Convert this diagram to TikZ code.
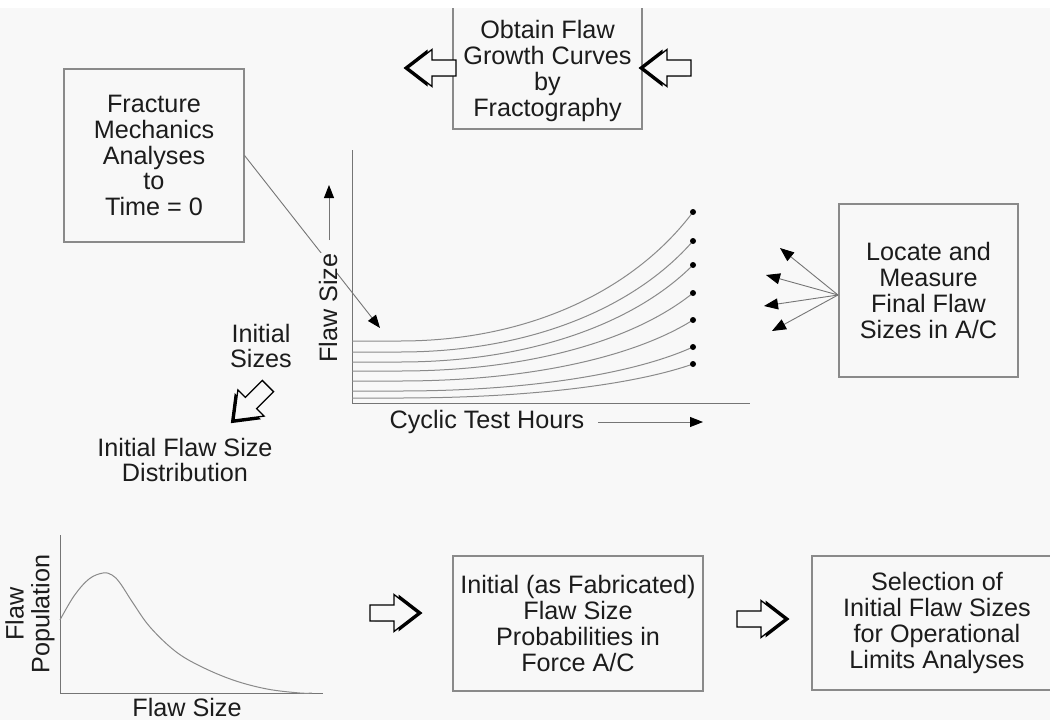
\documentclass[tikz,border=0pt]{standalone}
\usepackage{fontspec}
\setmainfont{Liberation Sans}
\usetikzlibrary{arrows.meta}
\definecolor{bg}{HTML}{F8F8F8}
\definecolor{ink}{HTML}{1C1C1C}
\definecolor{rule}{HTML}{8A8A8A}
\begin{document}
\begin{tikzpicture}[x=1pt,y=-1pt,
  lbl/.style={font=\fontsize{25.2}{25.8}\selectfont, text=ink, align=center, inner sep=0pt},
  boxed/.style={draw=rule, line width=1.1pt, inner sep=0pt},
  thinline/.style={draw=rule!85!black, line width=0.9pt},
  tipped/.style={thinline, -{Triangle[length=13pt,width=10pt,fill=black,color=black]}},
  fantip/.style={thinline, -{Triangle[length=14pt,width=11pt,fill=black,color=black]}},
  growth/.style={draw=rule, line width=1pt},
  hollow/.pic={
    % drop shadow pushed towards the point, then the outlined arrow
    \fill[black, shift={(4.5,0)}] (0,0) -- (-24,-18.5) -- (-24,-8) -- (-48,-8)
      -- (-48,8) -- (-24,8) -- (-24,18.5) -- cycle;
    \filldraw[fill=bg, draw=black, line width=1.3pt, line join=miter]
      (0,0) -- (-24,-18.5) -- (-24,-8) -- (-48,-8)
      -- (-48,8) -- (-24,8) -- (-24,18.5) -- cycle;
  }]
\useasboundingbox (0,0) rectangle (1050,720);
\clip (0,0) rectangle (1050,720);
\fill[bg] (0,0) rectangle (1050,720);

% ---- top box and its two block arrows
\node[boxed, minimum width=189pt, minimum height=140pt] (obtainbox) at (547.5,59) {};
\fill[white] (0,0) rectangle (1050,8);
\node[lbl] (obtain) at (547.5,71) {Obtain Flaw\\Growth Curves\\by\\Fractography};
\pic[rotate=180] (arrL) at (408,68) {hollow};
\pic[rotate=180] (arrR) at (643,68) {hollow};

% ---- fracture mechanics box
\node[boxed, lbl, minimum width=180pt, minimum height=173pt] (fracture) at (154,155.5)
  {Fracture\\Mechanics\\Analyses\\to\\Time = 0};

% ---- growth chart axes
\coordinate (yaxtop) at (352,150);
\coordinate (origin) at (352,403);
\coordinate (xaxend) at (750,403);
\draw[thinline] (yaxtop) -- (origin) -- (xaxend);

% ---- growth curves ending in dots
\foreach \a/\b [count=\i] in {341/212, 352/241, 362/265, 371/293, 381/320, 391/347, 398/364}{
  \coordinate (s\i) at (352,\a);
  \coordinate (e\i) at (693,\b);
  \draw[growth] (s\i) -- (400,\a) .. controls (530,\a) and (635,{\b+0.6*(\a-\b)}) .. (e\i);
  \fill[black] (e\i) circle (3pt);
}

% ---- axis labels of the growth chart
\coordinate (initsz) at (380,328);
\draw[tipped] (fracture.east) -- (initsz);
\node[lbl, rotate=90, fill=bg] (flawsize) at (328,308) {Flaw Size};
\coordinate (upfrom) at (329,240);
\coordinate (upto) at (329,185);
\draw[tipped] (upfrom) -- (upto);
\node[lbl] (cyclic) at (487,422) {Cyclic Test Hours};
\coordinate (rtfrom) at (598,422);
\coordinate (rtto) at (703,422);
\draw[tipped] (rtfrom) -- (rtto);

% ---- initial sizes
\node[lbl] (initial) at (261,346) {Initial\\Sizes};
\pic[rotate=225] (arrD) at (234,420) {hollow};
\node[lbl] (distrib) at (185,460) {Initial Flaw Size\\Distribution};

% ---- locate and measure box with fan of arrows
\node[boxed, lbl, minimum width=179pt, minimum height=173pt] (locate) at (928.5,290.5)
  {Locate and\\Measure\\Final Flaw\\Sizes in A/C};
\coordinate (fan) at (838,295);
\coordinate (f1) at (780,248);
\coordinate (f2) at (766,275);
\coordinate (f3) at (764,306);
\coordinate (f4) at (772,331);
\foreach \t in {f1,f2,f3,f4}
  \draw[fantip] (fan) -- (\t);

% ---- population distribution chart
\coordinate (ptop) at (60,535);
\coordinate (porig) at (60,693);
\coordinate (pend) at (323,693);
\draw[thinline] (ptop) -- (porig) -- (pend);
\draw[growth] plot[smooth, tension=0.6] coordinates
  {(60,620) (74,596) (89,579) (103,573) (112,575) (120,583) (133,603) (150,627)
   (175,651) (200,666) (233,680) (267,689) (300,693) (312,693)};
\node[lbl, rotate=90] (population) at (30,614) {Flaw\\Population};
\node[lbl, anchor=base] (flawsz2) at (187,716) {Flaw Size};

% ---- bottom row
\pic (arrB1) at (418,613) {hollow};
\node[boxed, lbl, minimum width=250pt, minimum height=135pt] (probs) at (578,623.5)
  {Initial (as Fabricated)\\Flaw Size\\Probabilities in\\Force A/C};
\pic (arrB2) at (785,619) {hollow};
\node[boxed, lbl, minimum width=250pt, minimum height=134pt] (select) at (937,623)
  {Selection of\\Initial Flaw Sizes\\for Operational\\Limits Analyses};
\end{tikzpicture}
\end{document}
